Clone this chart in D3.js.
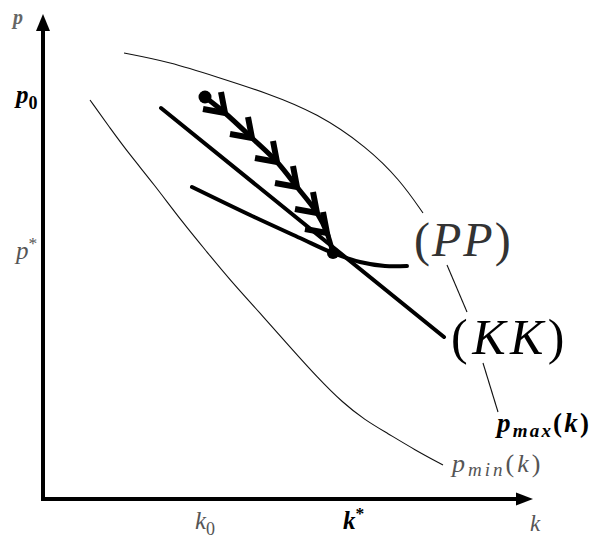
<!DOCTYPE html>
<html>
<head>
<meta charset="utf-8">
<script src="https://cdn.jsdelivr.net/npm/d3@7"></script>
<style>
  html, body { margin: 0; padding: 0; background: #fff; }
  svg { display: block; }
  text { font-family: "Liberation Serif", "DejaVu Serif", serif; }
</style>
</head>
<body>
<div id="chart"></div>
<script>
// ---- data (k, p) in model units ----
const pMaxUpper = [[16.2,89.2],[25.4,87.4],[34.8,84.4],[44.8,81.2],[54.8,77.2],[64.8,70.4],[71.4,63.8],[76.0,57.2]];
const pMaxMiddle = [[80.8,46.8],[84.8,37.4]];
const pMaxLower = [[88.0,27.2],[91.0,17.4]];
const pMinCurve = [[9.4,79.8],[13.4,74.2],[17.4,68.8],[22.0,63.2],[28.0,55.2],[32.8,49.4],[37.4,43.8],[43.4,37.2],[49.4,30.4],[54.8,24.4],[60.0,19.2],[64.4,15.8],[68.8,13.2],[74.4,9.8],[80.0,6.8]];
const kkLine = [[23.6,78.2],[80.2,32.4]];
const ppCurve = [[29.8,62.4],[41.4,56.8],[51.4,52.2],[58.0,49.2],[63.4,47.4],[68.4,46.6],[72.8,46.6]];
const trajectory = [[32.4,80.4],[36.4,77.2],[41.8,72.2],[46.8,67.4],[50.8,62.4],[54.8,57.2],[56.8,53.2],[58.0,49.2]];
const arrowIndices = [1,2,3,4,5,6];
const equilibrium = [58.0, 49.2];
const kTicks = [{v:32.4, base:"k", sub:"0", bold:false}, {v:62.0, base:"k", sup:"*", bold:true}];
const pTicks = [{v:80.4, base:"p", sub:"0", bold:true}, {v:49.2, base:"p", sup:"*", bold:false}];

const W = 593, H = 540;
const x = d3.scaleLinear().domain([0, 98]).range([43, 533]);
const y = d3.scaleLinear().domain([0, 97]).range([499, 14]);

const svg = d3.select("#chart").append("svg").attr("width", W).attr("height", H);

const line = d3.line().x(d => x(d[0])).y(d => y(d[1])).curve(d3.curveCatmullRom.alpha(0.5));
const smooth = d3.line().x(d => x(d[0])).y(d => y(d[1])).curve(d3.curveBasis);

// thin boundary curves
[pMaxUpper, pMaxMiddle, pMaxLower, pMinCurve].forEach(c => {
  svg.append("path").attr("d", smooth(c)).attr("fill", "none")
    .attr("stroke", "#111").attr("stroke-width", 1.1);
});

// KK line
svg.append("path").attr("d", line(kkLine)).attr("fill", "none")
  .attr("stroke", "#000").attr("stroke-width", 4).attr("stroke-linecap", "round");
// PP curve
svg.append("path").attr("d", line(ppCurve)).attr("fill", "none")
  .attr("stroke", "#000").attr("stroke-width", 4).attr("stroke-linecap", "round");

// trajectory
svg.append("path").attr("d", line(trajectory)).attr("fill", "none")
  .attr("stroke", "#000").attr("stroke-width", 5).attr("stroke-linecap", "round");
svg.append("circle").attr("cx", x(trajectory[0][0])).attr("cy", y(trajectory[0][1]))
  .attr("r", 6.5).attr("fill", "#000");
arrowIndices.forEach(i => {
  const vx = x(trajectory[i][0]), vy = y(trajectory[i][1]);
  svg.append("path")
    .attr("d", `M${vx-4},${vy-21}L${vx},${vy}L${vx-22},${vy-4}`)
    .attr("fill", "none").attr("stroke", "#000").attr("stroke-width", 6)
    .attr("stroke-linejoin", "miter").attr("stroke-linecap", "butt");
});
// equilibrium dot
svg.append("circle").attr("cx", x(equilibrium[0])).attr("cy", y(equilibrium[1]))
  .attr("r", 6).attr("fill", "#000");

// axes
const ax = svg.append("g");
ax.append("line").attr("x1", x(0)).attr("y1", y(0) + 2).attr("x2", x(0)).attr("y2", y(97) + 14)
  .attr("stroke", "#000").attr("stroke-width", 4);
ax.append("path").attr("d", `M${x(0)},${y(97)}L${x(0)-7},${y(97)+17}L${x(0)+7},${y(97)+17}Z`).attr("fill", "#000");
ax.append("line").attr("x1", x(0) - 2).attr("y1", y(0)).attr("x2", x(98) - 14).attr("y2", y(0))
  .attr("stroke", "#000").attr("stroke-width", 4);
ax.append("path").attr("d", `M${x(98)},${y(0)}L${x(98)-17},${y(0)-6.5}L${x(98)-17},${y(0)+6.5}Z`).attr("fill", "#000");

function mathText(g, t, size) {
  const txt = g.append("text").attr("font-size", size)
    .attr("font-style", "italic")
    .attr("font-weight", t.bold ? "bold" : "normal")
    .attr("fill", t.bold ? "#000" : "#555");
  txt.append("tspan").text(t.base);
  if (t.sub) txt.append("tspan").attr("font-style", "normal").attr("font-size", size * 0.72).attr("dy", size * 0.22).text(t.sub);
  if (t.sup) txt.append("tspan").attr("font-style", "normal").attr("font-size", size * 0.7).attr("dy", -size * 0.4).text(t.sup);
  return txt;
}

// tick labels
kTicks.forEach(t => {
  const g = svg.append("g").attr("transform", `translate(${x(t.v) - 10},${y(0) + 30})`);
  mathText(g, t, 25);
});
pTicks.forEach(t => {
  const g = svg.append("g").attr("transform", `translate(${16},${y(t.v) + 6})`);
  mathText(g, t, 25);
});

// axis titles
svg.append("text").attr("x", 13).attr("y", 24).attr("font-size", 20).attr("font-style", "italic")
  .attr("font-weight", "bold").attr("fill", "#666").text("p");
svg.append("text").attr("x", 530).attr("y", 531).attr("font-size", 23).attr("font-style", "italic")
  .attr("fill", "#555").text("k");

// curve labels
svg.append("text").attr("x", 414).attr("y", 256).attr("font-size", 48).attr("letter-spacing", 2).attr("fill", "#333")
  .html('(<tspan font-style="italic">PP</tspan>)');
svg.append("text").attr("x", 451).attr("y", 354).attr("font-size", 50).attr("letter-spacing", 4.5).attr("fill", "#000")
  .html('(<tspan font-style="italic">KK</tspan>)');

const pmax = svg.append("text").attr("x", 497).attr("y", 432).attr("font-size", 27).attr("font-weight", "bold")
  .attr("letter-spacing", 2.2).attr("fill", "#000");
pmax.append("tspan").attr("font-style", "italic").text("p");
pmax.append("tspan").attr("font-style", "italic").attr("font-size", 19).attr("dy", 5).text("max");
pmax.append("tspan").attr("dy", -5).text("(");
pmax.append("tspan").attr("font-style", "italic").text("k");
pmax.append("tspan").text(")");

const pmin = svg.append("text").attr("x", 452).attr("y", 472).attr("font-size", 26)
  .attr("letter-spacing", 3).attr("fill", "#555");
pmin.append("tspan").attr("font-style", "italic").text("p");
pmin.append("tspan").attr("font-style", "italic").attr("font-size", 19).attr("dy", 4).text("min");
pmin.append("tspan").attr("dy", -4).text("(");
pmin.append("tspan").attr("font-style", "italic").text("k");
pmin.append("tspan").text(")");
</script>
</body>
</html>
